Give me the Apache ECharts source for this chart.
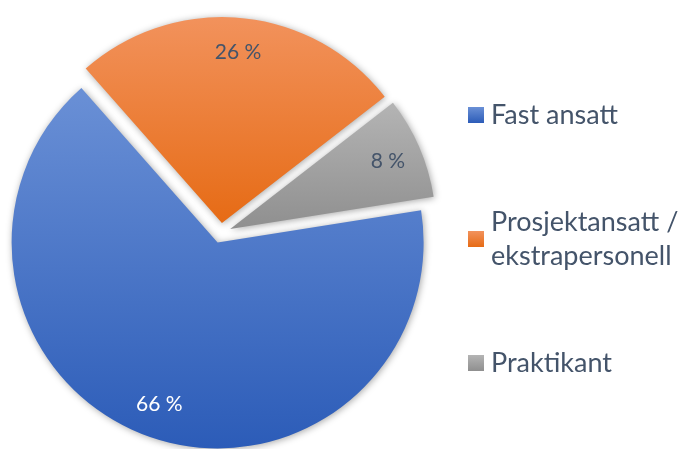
<!DOCTYPE html>
<html><head><meta charset="utf-8">
<script src="https://cdn.jsdelivr.net/npm/echarts@6/dist/echarts.min.js"></script>
<style>html,body{margin:0;padding:0;background:#fff}#c{width:679px;height:449px}</style>
</head><body><div id="c"></div>
<script>
const categories = ['Fast ansatt', 'Prosjektansatt /\nekstrapersonell', 'Praktikant'];
const values = [66, 26, 8];
const colorsTop = ['#6a90d6', '#f2925c', '#b4b4b4'];
const colorsBottom = ['#2c5cb8', '#e66b15', '#8f8f8f'];
const labelColors = ['#ffffff', '#44546a', '#44546a'];

const grad = i => new echarts.graphic.LinearGradient(0, 0, 0, 1, [
  { offset: 0, color: colorsTop[i] }, { offset: 1, color: colorsBottom[i] }
]);

const center = [221, 233];
const R = 206;

const mainData = categories.map((n, i) => ({
  name: n, value: values[i], selected: true,
  itemStyle: { color: grad(i) }
}));
const labelData = categories.map((n, i) => ({
  name: n, value: values[i], selected: true,
  label: { color: labelColors[i] }
}));

const chart = echarts.init(document.getElementById('c'), null, { renderer: 'canvas' });
chart.setOption({
  animation: false,
  backgroundColor: '#ffffff',
  legend: {
    orient: 'vertical',
    left: 463, top: 93,
    itemWidth: 16, itemHeight: 16, itemGap: 56,
    icon: 'rect',
    selectedMode: false,
    textStyle: { fontFamily: 'Lato', fontSize: 27, color: '#44546a', lineHeight: 34, padding: [0, 0, 0, 2] },
    data: categories.map((n, i) => i === 1
      ? { name: n, textStyle: { padding: [34, 0, 0, 2] } }
      : { name: n })
  },
  series: [
    {
      type: 'pie',
      center: center, radius: [0, R],
      startAngle: 9, clockwise: true,
      selectedMode: 'multiple', selectedOffset: 10,
      label: { show: false }, labelLine: { show: false },
      itemStyle: { borderWidth: 0, shadowBlur: 7, shadowColor: 'rgba(0,0,0,0.35)', shadowOffsetX: 1, shadowOffsetY: 1 },
      emphasis: { disabled: true },
      silent: true,
      data: mainData
    },
    {
      type: 'pie',
      center: center, radius: [R * 0.64, R],
      startAngle: 9, clockwise: true,
      selectedMode: 'multiple', selectedOffset: 10,
      avoidLabelOverlap: false,
      itemStyle: { color: 'rgba(0,0,0,0)', borderWidth: 0 },
      label: { show: true, position: 'inside', formatter: p => p.value + ' %', fontFamily: 'Lato', fontSize: 21 },
      labelLine: { show: false },
      emphasis: { disabled: true },
      silent: true,
      data: labelData
    }
  ]
});
</script></body></html>
